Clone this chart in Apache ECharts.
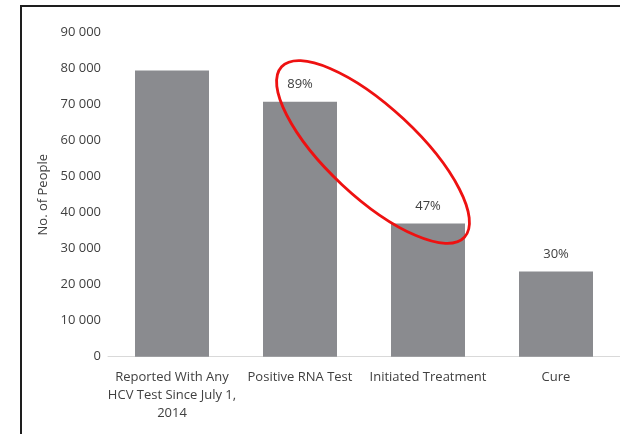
<!DOCTYPE html>
<html>
<head>
<meta charset="utf-8">
<script src="https://cdn.jsdelivr.net/npm/echarts@6/dist/echarts.min.js"></script>
<style>
  html, body { margin: 0; padding: 0; background: #fff; }
  #main { width: 620px; height: 434px; }
</style>
</head>
<body>
<div id="main"></div>
<script>
// cascade stages
const categories = [
  "Reported With Any\nHCV Test Since July 1,\n2014",
  "Positive RNA Test",
  "Initiated Treatment",
  "Cure"
];
const people = [79500, 70800, 37000, 23700];
const percentLabels = ["", "89%", "47%", "30%"];

const yMax = 90000;
const yStep = 10000;

const txt = "#404040";
const font = "'Open Sans', sans-serif";

const chart = echarts.init(document.getElementById("main"));

const option = {
  animation: false,
  grid: {
    left: 108,
    right: 0,
    top: 32.7,
    bottom: 77.3,
    containLabel: false
  },
  xAxis: {
    type: "category",
    data: categories,
    axisLine: { lineStyle: { color: "#d9d9d9", width: 1 } },
    axisTick: { show: false },
    axisLabel: {
      color: txt,
      fontFamily: font,
      fontSize: 13,
      lineHeight: 18,
      margin: 12,
      interval: 0
    }
  },
  yAxis: {
    type: "value",
    min: 0,
    max: yMax,
    interval: yStep,
    name: "No. of People",
    nameLocation: "middle",
    nameGap: 56,
    nameTextStyle: { color: txt, fontFamily: font, fontSize: 13 },
    axisLine: { show: false },
    axisTick: { show: false },
    splitLine: { show: false },
    axisLabel: {
      color: txt,
      fontFamily: font,
      fontSize: 13,
      margin: 7,
      formatter: function (v) {
        return String(v).replace(/\B(?=(\d{3})+(?!\d))/g, " ");
      }
    }
  },
  series: [
    {
      type: "bar",
      data: people,
      barWidth: 74,
      itemStyle: { color: "#8a8b8f" },
      label: {
        show: true,
        position: "top",
        distance: 11,
        color: txt,
        fontFamily: font,
        fontSize: 13,
        formatter: function (p) {
          return percentLabels[p.dataIndex];
        }
      }
    }
  ],
  graphic: [
    // page frame (top and left edges)
    {
      type: "polyline",
      z: 100,
      shape: { points: [[21, 434], [21, 6], [620, 6]] },
      style: { stroke: "#1e1e1e", lineWidth: 2, fill: null }
    },
    // red highlight ellipse
    {
      type: "ellipse",
      z: 100,
      x: 373,
      y: 152,
      rotation: -43 * Math.PI / 180,
      shape: { cx: 0, cy: 0, rx: 125, ry: 45 },
      style: { stroke: "#ee1111", lineWidth: 2.8, fill: null }
    }
  ]
};

chart.setOption(option);
</script>
</body>
</html>
